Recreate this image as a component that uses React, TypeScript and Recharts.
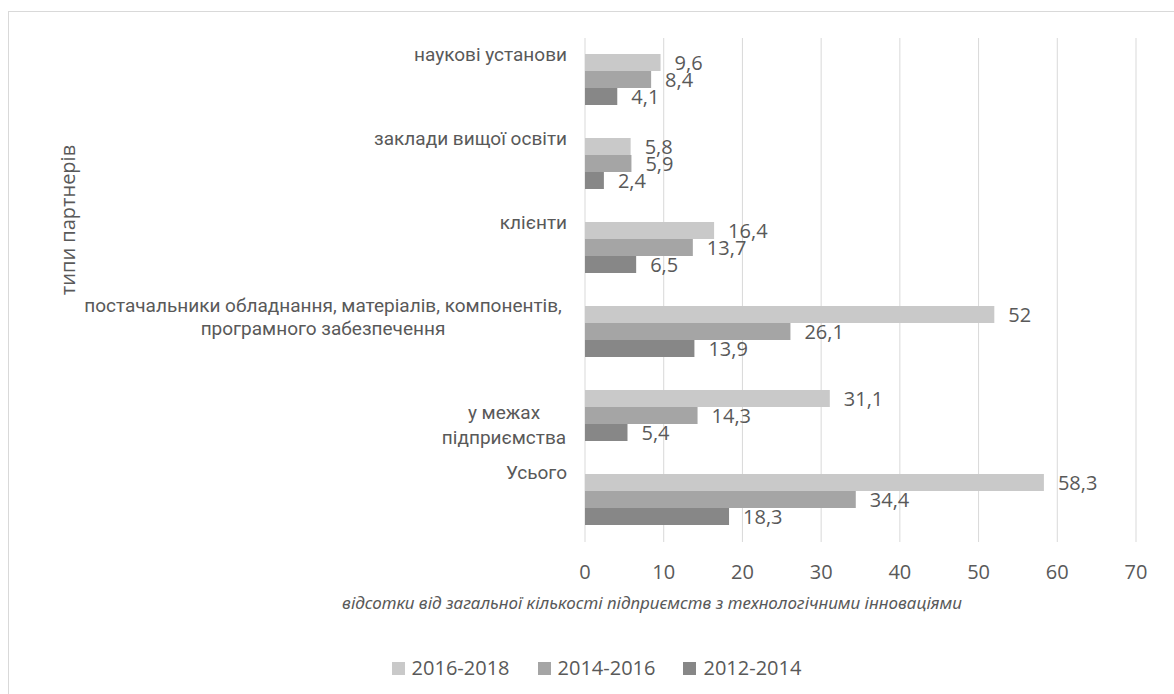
import React from 'react';
import { BarChart, Bar, XAxis, YAxis, CartesianGrid, Legend, LabelList, Label } from 'recharts';

// Partner types, top to bottom; each entry holds the lines the label is broken into
const partnerTypeLines: string[][] = [
  ['наукові установи'],
  ['заклади вищої освіти'],
  ['клієнти'],
  ['постачальники обладнання, матеріалів, компонентів,', 'програмного забезпечення'],
  ['у межах', 'підприємства'],
  ['Усього'],
];
const partnerTypes = partnerTypeLines.map((l) => l.join(' '));

// Share of enterprises with technological innovations, %
const share2016_2018 = [9.6, 5.8, 16.4, 52, 31.1, 58.3];
const share2014_2016 = [8.4, 5.9, 13.7, 26.1, 14.3, 34.4];
const share2012_2014 = [4.1, 2.4, 6.5, 13.9, 5.4, 18.3];

const seriesNames = ['2016-2018', '2014-2016', '2012-2014'];
const xTicks = [0, 10, 20, 30, 40, 50, 60, 70];

const yTitle = 'типи партнерів';
const xTitle = 'відсотки від загальної кількості підприємств з технологічними інноваціями';

const data = partnerTypes.map((name, i) => ({
  name,
  s1: share2016_2018[i],
  s2: share2014_2016[i],
  s3: share2012_2014[i],
}));

const TEXT = '#595959';
const GRID = '#d9d9d9';
const COLORS = ['#c9c9c9', '#a5a5a5', '#878787'];
const NUM_FONT = '"Open Sans", "Noto Sans", sans-serif';
const CAT_FONT = 'Roboto, "Noto Sans", sans-serif';

// Per-category label placement: anchor, x, and vertical offsets of line centres from the band centre
const catLayout = [
  { anchor: 'end', x: 558, dys: [-26] },
  { anchor: 'end', x: 558, dys: [-26] },
  { anchor: 'end', x: 558, dys: [-26] },
  { anchor: 'middle', x: 314, dys: [-27, -4] },
  { anchor: 'middle', x: 495, dys: [-4, 21] },
  { anchor: 'end', x: 558, dys: [-28] },
];

const CategoryTick = (props: any) => {
  const { y, index } = props;
  const lines = partnerTypeLines[index] || [String(props.payload?.value ?? '')];
  const lay = catLayout[index] || catLayout[0];
  return (
    <g>
      {lines.map((line, k) => (
        <text
          key={k}
          x={lay.x}
          y={y + lay.dys[k] + 7}
          textAnchor={lay.anchor as any}
          fill={TEXT}
          fontSize={19}
          fontFamily={CAT_FONT}
        >
          {line}
        </text>
      ))}
    </g>
  );
};

const ValueTick = (props: any) => {
  const { x, y, payload } = props;
  return (
    <text x={x} y={y + 37} textAnchor="middle" fill={TEXT} fontSize={20} fontFamily={NUM_FONT}>
      {payload.value}
    </text>
  );
};

const YTitle = (props: any) => {
  const vb = props.viewBox || { x: 0, y: 26 };
  const cx = vb.x + 58;
  const cy = vb.y + 182;
  return (
    <text
      x={cx}
      y={cy}
      transform={`rotate(-90, ${cx}, ${cy})`}
      textAnchor="middle"
      dominantBaseline="central"
      fill={TEXT}
      fontSize={20}
      fontFamily={NUM_FONT}
    >
      {yTitle}
    </text>
  );
};

const XTitle = (props: any) => {
  const vb = props.viewBox || { x: 576, y: 530 };
  return (
    <text
      x={vb.x + 67}
      y={vb.y + 67}
      textAnchor="middle"
      fill={TEXT}
      fontSize={17}
      fontStyle="italic"
      fontFamily='"Noto Sans", sans-serif'
    >
      {xTitle}
    </text>
  );
};

const LegendContent = (props: any) => {
  const items = [...(props.payload || [])].sort(
    (a: any, b: any) => seriesNames.indexOf(a.value) - seriesNames.indexOf(b.value)
  );
  return (
    <div
      style={{
        display: 'flex',
        justifyContent: 'center',
        alignItems: 'center',
        gap: 28,
        paddingLeft: 10,
        fontFamily: NUM_FONT,
        fontSize: 20,
        color: TEXT,
        lineHeight: '26px',
      }}
    >
      {items.map((entry: any) => (
        <div key={entry.value} style={{ display: 'flex', alignItems: 'center' }}>
          <span style={{ display: 'inline-block', width: 13, height: 13, background: entry.color, marginRight: 7 }} />
          <span>{entry.value}</span>
        </div>
      ))}
    </div>
  );
};

const fmt = (v: any) => String(v).replace('.', ',');

export default function App() {
  return (
    <div
      style={{
        position: 'absolute',
        left: 8,
        top: 11,
        width: 1166,
        height: 683,
        borderLeft: `1px solid ${GRID}`,
        borderTop: `1px solid ${GRID}`,
        boxSizing: 'border-box',
        background: '#fff',
      }}
    >
      <BarChart
        width={1165}
        height={682}
        data={data}
        layout="vertical"
        margin={{ top: 26, right: 38, bottom: 92, left: 0 }}
        barCategoryGap={16}
        barGap={0}
      >
        <CartesianGrid horizontal={false} stroke={GRID} strokeWidth={1} />
        <XAxis
          type="number"
          domain={[0, 70]}
          ticks={xTicks}
          axisLine={false}
          tickLine={false}
          tickSize={0}
          tickMargin={0}
          height={60}
          tick={<ValueTick />}
          interval={0}
        >
          <Label content={<XTitle />} />
        </XAxis>
        <YAxis
          type="category"
          dataKey="name"
          width={576}
          axisLine={false}
          tickLine={false}
          tick={<CategoryTick />}
          interval={0}
        >
          <Label content={<YTitle />} />
        </YAxis>
        <Legend
          verticalAlign="middle"
          layout="horizontal"
          wrapperStyle={{ top: 643, left: 0, width: 1165 }}
          content={<LegendContent />}
        />
        {['s1', 's2', 's3'].map((key, i) => (
          <Bar key={key} dataKey={key} name={seriesNames[i]} fill={COLORS[i]} isAnimationActive={false}>
            <LabelList
              dataKey={key}
              position="right"
              offset={14}
              formatter={fmt}
              fill={TEXT}
              fontSize={20}
              fontFamily={NUM_FONT}
            />
          </Bar>
        ))}
      </BarChart>
    </div>
  );
}
